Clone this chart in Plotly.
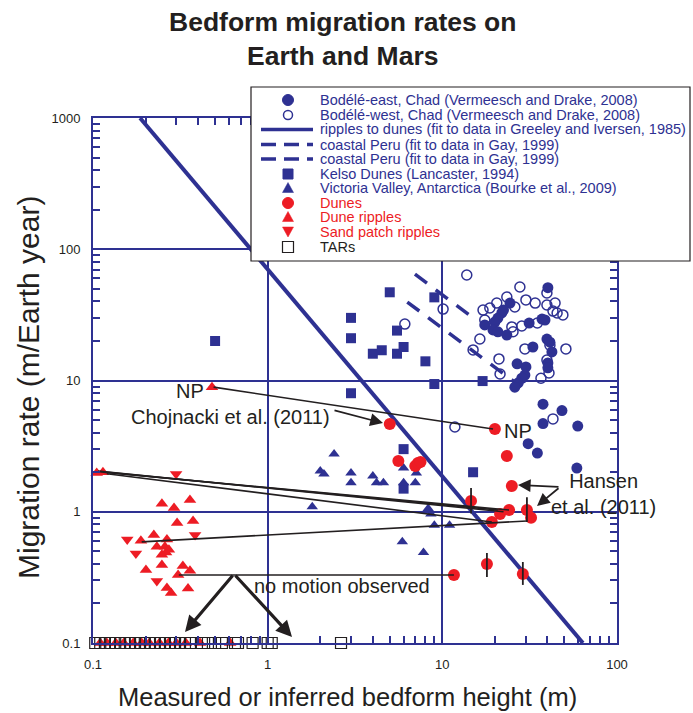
import plotly.graph_objects as go

NAVY = "#2E3192"
RED = "#ED1C24"
INK = "#231F20"
FONT = "Liberation Sans, Arial, sans-serif"

# ---------------- data ----------------
ripple_fit_x = [0.186, 63.8]
ripple_fit_y = [1000, 0.1]

peru1_x = [6.97, 15.0]
peru1_y = [64.6, 30.0]
peru2_x = [6.3, 26.0]
peru2_y = [39.6, 9.7]

kelso_x = [0.5, 5.0, 9.0, 3.0, 3.0, 5.5, 4.0, 4.5, 5.5, 6.0, 8.0, 9.0, 17, 3.0, 6.0, 15, 6.0]
kelso_y = [20, 47, 43, 30, 21, 24, 16, 17, 16, 18, 14, 9.4, 9.9, 8.0, 3.0, 2.0, 1.5]

victoria_x = [2.4, 2.0, 2.1, 3.0, 3.0, 4.0, 4.2, 4.6, 6.0, 7.1, 7.0, 6.0, 1.8, 8.3, 8.6, 9.0, 11, 5.9, 7.8]
victoria_y = [2.75, 2.04, 1.94, 1.97, 1.66, 1.87, 1.66, 1.66, 2.15, 1.97, 1.66, 1.66, 1.09, 1.06, 0.96, 0.79, 0.79, 0.59, 0.49]

bodele_east_x = [40.2, 24.4, 21.9, 20.8, 20.0, 17.5, 19.5, 20.8, 23.4, 31.4, 37.2, 38.7, 39.7, 41.3,
                 42.4, 33.0, 26.8, 30.1, 29.7, 40.2, 40.2, 28.5, 27.2, 26.0, 37.7, 48.4, 37.7, 59.6,
                 31.0, 35.0, 58.9, 22.4]
bodele_east_y = [51, 38.9, 32.7, 29.9, 27.9, 26.5, 24.3, 23.5, 22.2, 27.4, 29.4, 28.9, 20.7, 19.6,
                 16.5, 18.0, 13.4, 12.7, 11.0, 13.6, 12.5, 10.4, 9.6, 8.9, 6.6, 5.9, 4.7, 4.5,
                 3.3, 2.8, 2.15, 34.4]

bodele_west_x = [6.1, 10.1, 13.8, 27.8, 39.7, 23.4, 30.1, 34.0, 44.2, 39.7, 43.0, 45.4, 49.0, 20.5,
                 18.7, 17.1, 26.0, 17.5, 25.0, 28.5, 35.0, 25.4, 16.4, 15.0, 21.1, 29.7, 41.3, 51.0,
                 39.7, 40.8, 36.7, 21.4, 11.8, 43.0]
bodele_west_y = [26.9, 35.0, 63.6, 51.6, 46.4, 43.3, 41.1, 38.9, 38.9, 37.6, 33.8, 32.7, 31.6, 38.9,
                 35.7, 34.4, 36.3, 28.9, 25.6, 26.0, 27.4, 23.5, 20.7, 17.1, 14.6, 17.4, 18.6, 17.4,
                 14.3, 11.4, 10.4, 11.2, 4.42, 5.1]

dunes_x = [5.0, 20, 5.6, 7.0, 7.25, 7.5, 23.4, 25, 14.6, 24.1, 21.4, 30.5, 32.2, 19.2, 18, 28.9, 11.65]
dunes_y = [4.66, 4.27, 2.44, 2.23, 2.35, 2.39, 2.66, 1.57, 1.21, 1.03, 0.96, 1.03, 0.9, 0.835, 0.40, 0.336, 0.33]

dune_err_x = [14.6, 30.5, 18, 28.9]
dune_err_lo = [0.97, 0.835, 0.318, 0.277]
dune_err_hi = [1.52, 1.29, 0.485, 0.414]

dune_ripples_x = [0.48, 0.105, 0.114, 0.248, 0.291, 0.359, 0.303, 0.374, 0.223, 0.188, 0.265, 0.232,
                  0.258, 0.262, 0.248, 0.272, 0.248, 0.201, 0.327, 0.359, 0.307, 0.265, 0.28, 0.35,
                  0.11, 0.12, 0.135, 0.15, 0.17, 0.19, 0.21, 0.24, 0.27, 0.30, 0.34, 0.41, 0.61]
dune_ripples_y = [8.9, 1.97, 2.0, 1.15, 1.07, 1.23, 0.82, 0.85, 0.665, 0.60, 0.615, 0.54,
                  0.54, 0.49, 0.47, 0.514, 0.393, 0.36, 0.386, 0.355, 0.33, 0.262, 0.24, 0.26,
                  0.1, 0.1, 0.1, 0.1, 0.1, 0.1, 0.1, 0.1, 0.1, 0.1, 0.1, 0.1, 0.1]

sand_patch_x = [0.299, 0.157, 0.176, 0.384, 0.232]
sand_patch_y = [1.94, 0.615, 0.48, 0.665, 0.297]

tars_x = [0.103, 0.110, 0.117, 0.125, 0.134, 0.143, 0.152, 0.163, 0.174, 0.186, 0.198, 0.212, 0.226,
          0.242, 0.258, 0.276, 0.295, 0.315, 0.336, 0.359, 0.42, 0.455, 0.50, 0.547, 0.65, 0.676,
          0.82, 1.0, 1.055, 2.63]
tars_y = [0.1] * len(tars_x)

# black lines linking repeated measurements
links_x = [[0.49, 19.5], [0.11, 20.8], [0.114, 24.1], [0.107, 22.4], [0.12, 19.2], [0.19, 30.5], [0.31, 11.65]]
links_y = [[8.9, 4.27], [2.02, 1.03], [2.0, 1.03], [2.04, 1.0], [1.95, 0.835], [0.59, 0.85], [0.33, 0.33]]

x_tick_vals = [0.1, 1, 10, 100]
x_tick_text = ["0.1", "1", "10", "100"]
y_tick_vals = [0.1, 1, 10, 100, 1000]
y_tick_text = ["0.1", "1", "10", "100", "1000"]

legend_labels = [
    "Bodélé-east, Chad (Vermeesch and Drake, 2008)",
    "Bodélé-west, Chad (Vermeesch and Drake, 2008)",
    "ripples to dunes (fit to data in Greeley and Iversen, 1985)",
    "coastal Peru (fit to data in Gay, 1999)",
    "coastal Peru (fit to data in Gay, 1999)",
    "Kelso Dunes (Lancaster, 1994)",
    "Victoria Valley, Antarctica (Bourke et al., 2009)",
    "Dunes",
    "Dune ripples",
    "Sand patch ripples",
    "TARs",
]

# ---------------- figure ----------------
W, H = 693, 713
L, R, T, B = 93, 617, 118, 643


def PX(x):
    return (x - L) / (R - L)


def PY(y):
    return (B - y) / (B - T)


fig = go.Figure()

fig.add_trace(go.Scatter(x=ripple_fit_x, y=ripple_fit_y, mode="lines",
                         line=dict(color=NAVY, width=4)))
for px_, py_ in ((peru1_x, peru1_y), (peru2_x, peru2_y)):
    fig.add_trace(go.Scatter(x=px_, y=py_, mode="lines",
                             line=dict(color=NAVY, width=3.5, dash="15px,11px")))

fig.add_trace(go.Scatter(x=kelso_x, y=kelso_y, mode="markers",
                         marker=dict(symbol="square", size=10, color=NAVY)))
fig.add_trace(go.Scatter(x=victoria_x, y=victoria_y, mode="markers",
                         marker=dict(symbol="triangle-up", size=10, color=NAVY)))
fig.add_trace(go.Scatter(x=bodele_west_x, y=bodele_west_y, mode="markers",
                         marker=dict(symbol="circle-open", size=10, color=NAVY, line=dict(width=1.5))))
fig.add_trace(go.Scatter(x=bodele_east_x, y=bodele_east_y, mode="markers",
                         marker=dict(symbol="circle", size=11, color=NAVY)))

fig.add_trace(go.Scatter(x=dunes_x, y=dunes_y, mode="markers",
                         marker=dict(symbol="circle", size=12, color=RED)))
fig.add_trace(go.Scatter(x=dune_ripples_x, y=dune_ripples_y, mode="markers", cliponaxis=False,
                         marker=dict(symbol="triangle-up", size=11, color=RED)))
fig.add_trace(go.Scatter(x=sand_patch_x, y=sand_patch_y, mode="markers",
                         marker=dict(symbol="triangle-down", size=11, color=RED)))

# linking lines
for lx, ly in zip(links_x, links_y):
    fig.add_trace(go.Scatter(x=lx, y=ly, mode="lines", line=dict(color=INK, width=1.6)))

# error bars
ex, ey = [], []
for x, lo, hi in zip(dune_err_x, dune_err_lo, dune_err_hi):
    ex += [x, x, None]
    ey += [lo, hi, None]
fig.add_trace(go.Scatter(x=ex, y=ey, mode="lines", line=dict(color=INK, width=1.8)))

fig.add_trace(go.Scatter(x=tars_x, y=tars_y, mode="markers", cliponaxis=False,
                         marker=dict(symbol="square-open", size=11, color=INK, line=dict(width=1.2))))

# ---------------- axes ----------------
x_minor = [k * 10 ** e for e in (-1, 0, 1) for k in range(2, 10)]
y_minor = [k * 10 ** e for e in (-1, 0, 1, 2) for k in range(2, 10)]
axis_common = dict(
    type="log", ticks="inside", ticklen=7, tickwidth=1.5, tickcolor=NAVY,
    showline=True, linecolor=NAVY, linewidth=2, mirror="ticks",
    showgrid=True, gridcolor=NAVY, gridwidth=1.5, zeroline=False,
    tickfont=dict(size=13, color=INK, family=FONT), ticklabelstandoff=8,
)
fig.update_xaxes(range=[-1, 2], tickvals=x_tick_vals, ticktext=x_tick_text,
                 minor=dict(tickvals=x_minor, ticks="inside", ticklen=7, tickwidth=1.5,
                            tickcolor=NAVY, showgrid=False), **axis_common)
fig.update_yaxes(range=[-1, 3], tickvals=y_tick_vals, ticktext=y_tick_text,
                 minor=dict(tickvals=y_minor, ticks="inside", ticklen=7, tickwidth=1.5,
                            tickcolor=NAVY, showgrid=False), **axis_common)

# ---------------- legend (drawn by hand) ----------------
shapes = []
ann = []
shapes.append(dict(type="rect", xref="paper", yref="paper", layer="above",
                   x0=PX(251), x1=PX(690), y0=PY(261), y1=PY(87),
                   line=dict(color=INK, width=1.2), fillcolor="white"))
rows = [100, 115, 129.5, 144.5, 159, 174, 188, 203, 217, 232, 247]
cx = 288


def circ(y, r, fill, line, lw):
    return dict(type="circle", xref="paper", yref="paper", layer="above",
                x0=PX(cx - r), x1=PX(cx + r), y0=PY(y + r), y1=PY(y - r),
                fillcolor=fill, line=dict(color=line, width=lw))


def tri(y, up, color):
    h = 5.0
    w = 5.5
    if up:
        pts = [(cx, y - h - 0.5), (cx + w, y + h - 0.5), (cx - w, y + h - 0.5)]
    else:
        pts = [(cx, y + h), (cx + w, y - h), (cx - w, y - h)]
    path = "M {} {} L {} {} L {} {} Z".format(*[v for p in pts for v in (PX(p[0]), PY(p[1]))])
    return dict(type="path", xref="paper", yref="paper", layer="above", path=path,
                fillcolor=color, line=dict(color=color, width=0.5))


def sq(y, s, fill, line, lw):
    return dict(type="rect", xref="paper", yref="paper", layer="above",
                x0=PX(cx - s), x1=PX(cx + s), y0=PY(y + s), y1=PY(y - s),
                fillcolor=fill, line=dict(color=line, width=lw))


def hline(y, dash):
    return dict(type="line", xref="paper", yref="paper", layer="above",
                x0=PX(261), x1=PX(313), y0=PY(y), y1=PY(y),
                line=dict(color=NAVY, width=3.5, dash=dash))


shapes += [
    circ(rows[0], 5.5, NAVY, NAVY, 1),
    circ(rows[1], 4.5, "white", NAVY, 1.5),
    hline(rows[2], "solid"),
    hline(rows[3], "15px,8px"),
    hline(rows[4], "15px,8px"),
    sq(rows[5], 5, NAVY, NAVY, 1),
    tri(rows[6], True, NAVY),
    circ(rows[7], 5.5, RED, RED, 1),
    tri(rows[8], True, RED),
    tri(rows[9], False, RED),
    sq(rows[10], 5.5, "white", INK, 1.2),
]
label_colors = [NAVY] * 7 + [RED] * 3 + [INK]
for lab, y, c in zip(legend_labels, rows, label_colors):
    ann.append(dict(x=PX(318), y=PY(y), xref="paper", yref="paper", text=lab, showarrow=False,
                    xanchor="left", yanchor="middle", font=dict(size=14.5, color=c, family=FONT)))

# ---------------- titles & annotations ----------------
ann.append(dict(x=PX(343), y=PY(39), xref="paper", yref="paper",
                text="<b>Bedform migration rates on<br>Earth and Mars</b>", showarrow=False,
                xanchor="center", yanchor="middle", font=dict(size=26.5, color=INK, family=FONT)))
ann.append(dict(x=PX(28), y=PY(388), xref="paper", yref="paper", textangle=-90,
                text="Migration rate (m/Earth year)", showarrow=False,
                xanchor="center", yanchor="middle", font=dict(size=30, color=INK, family=FONT)))
ann.append(dict(x=PX(347), y=PY(697), xref="paper", yref="paper",
                text="Measured or inferred bedform height (m)", showarrow=False,
                xanchor="center", yanchor="middle", font=dict(size=25.5, color=INK, family=FONT)))

TF = dict(size=20, color=INK, family=FONT)
ann.append(dict(x=PX(206), y=PY(391), xref="paper", yref="paper", text="NP", showarrow=False,
                xanchor="right", yanchor="middle", font=TF))
ann.append(dict(x=PX(230), y=PY(417), xref="paper", yref="paper", text="Chojnacki et al. (2011)",
                showarrow=False, xanchor="center", yanchor="middle", font=TF))
ann.append(dict(x=PX(502), y=PY(431), xref="paper", yref="paper", text="NP", showarrow=False,
                xanchor="left", yanchor="middle", font=TF))
ann.append(dict(x=PX(603), y=PY(494), xref="paper", yref="paper", text="Hansen<br>et al. (2011)",
                showarrow=False, xanchor="center", yanchor="middle", align="center", font=TF))
ann.append(dict(x=PX(252), y=PY(586), xref="paper", yref="paper", text="no motion observed",
                showarrow=False, xanchor="left", yanchor="middle", font=TF))

# arrows
arrow_specs = [
    # head (px, py), tail offset (ax, ay), width, size
    ((383, 423), (-50, -13), 1.6, 1.6),
    ((518, 485), (42, 2), 1.8, 1.4),
    ((537, 506), (23, -19), 1.8, 1.4),
    ((185, 632), (49, -58), 3.2, 1.0),
    ((292, 637), (-58, -63), 3.2, 1.0),
]
for (hx, hy), (ax, ay), wdt, sz in arrow_specs:
    ann.append(dict(x=PX(hx), y=PY(hy), xref="paper", yref="paper", text="", showarrow=True,
                    ax=ax, ay=ay, arrowhead=2, arrowsize=sz, arrowwidth=wdt, arrowcolor=INK,
                    standoff=0))

fig.update_layout(
    width=W, height=H, autosize=False,
    margin=dict(l=L, r=W - R, t=T, b=H - B),
    paper_bgcolor="white", plot_bgcolor="white",
    showlegend=False, hovermode=False,
    shapes=shapes, annotations=ann,
    font=dict(family=FONT, color=INK),
)

fig.write_html("out.html", config={"displayModeBar": False},
               post_script="document.body.style.margin='0';")
